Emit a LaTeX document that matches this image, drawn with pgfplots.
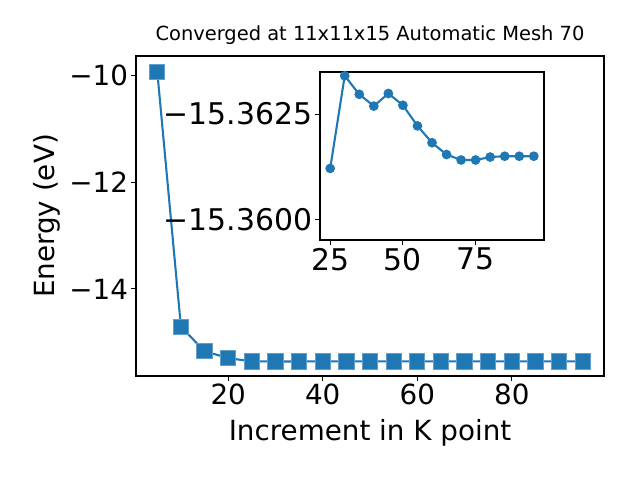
\documentclass[border=0pt]{standalone}
\usepackage{fontspec}
\setmainfont{DejaVu Sans}
\usepackage{pgfplots}
\pgfplotsset{compat=1.18}
\definecolor{c0}{HTML}{1F77B4}
% main data: k-point increment vs energy (eV)
\pgfplotstableread{
k E
5 -9.92
10 -14.71
15 -15.17
20 -15.30
25 -15.3612
30 -15.3634
35 -15.3630
40 -15.3627
45 -15.3630
50 -15.3627
55 -15.3622
60 -15.3618
65 -15.3615
70 -15.3614
75 -15.3614
80 -15.3615
85 -15.3615
90 -15.3615
95 -15.3615
}\maindata
% inset data: dE = (E + 15.36) * 1e4  (units of 0.1 meV, relative to -15.36 eV)
\pgfplotstableread{
k dE
25 -1.21
30 -3.41
35 -2.97
40 -2.69
45 -2.99
50 -2.71
55 -2.22
60 -1.82
65 -1.54
70 -1.41
75 -1.41
80 -1.48
85 -1.50
90 -1.50
95 -1.50
}\insetdata
\begin{document}
\begin{tikzpicture}[x=1pt,y=1pt]
\useasboundingbox (0,0) rectangle (460.8,345.6);
\begin{axis}[
  at={(97.92pt,74.88pt)}, anchor=south west,
  scale only axis, width=336.96pt, height=230.4pt,
  xmin=0.5, xmax=99.5, ymin=-15.636, ymax=-9.627,
  xtick={20,40,60,80}, xticklabels={20,40,60,80},
  ytick={-14,-12,-10}, yticklabels={−14,−12,−10},
  tick pos=left, tick align=outside, major tick length=3.5pt,
  tick style={black, line width=0.8pt},
  axis line style={line width=0.8pt},
  ticklabel style={font=\fontsize{20}{22}\selectfont, inner sep=2pt},
  xlabel={Increment in K point},
  ylabel={Energy (eV)},
  xlabel style={font=\fontsize{20}{22}\selectfont, at={(axis description cs:0.5,-0.178)}, anchor=center},
  ylabel style={font=\fontsize{20}{22}\selectfont, at={(axis description cs:-0.191,0.5)}, anchor=center, rotate=0},
  title={Converged at 11x11x15 Automatic Mesh 70},
  title style={font=\fontsize{14}{16}\selectfont, at={(axis description cs:0.5,1.0406)}, anchor=center},
]
\addplot[c0, line width=1.5pt, mark=square*, mark size=5.5pt, mark options={fill=c0, draw=c0!70!white, line width=0.6pt}] table[x=k, y=E] {\maindata};
\end{axis}
\begin{axis}[
  at={(230.4pt,172.8pt)}, anchor=south west,
  scale only axis, width=161.28pt, height=120.96pt,
  axis background/.style={fill=white},
  xmin=21.5, xmax=98.5, ymin=-3.5, ymax=0.49, y dir=reverse,
  xtick={25,50,75}, xticklabels={25,50,75},
  ytick={-2.5,0}, yticklabels={−15.3625,−15.3600},
  tick pos=left, tick align=outside, major tick length=3.5pt,
  tick style={black, line width=0.8pt},
  axis line style={line width=0.8pt},
  ticklabel style={font=\fontsize{21.5}{23}\selectfont, inner sep=2pt},
]
\addplot[c0, line width=1.5pt, mark=*, mark size=2.7pt, mark options={fill=c0, draw=c0}] table[x=k, y=dE] {\insetdata};
\end{axis}
\end{tikzpicture}
\end{document}
